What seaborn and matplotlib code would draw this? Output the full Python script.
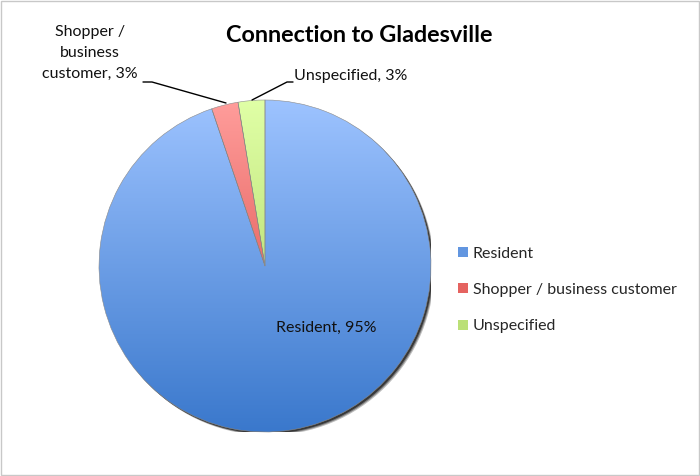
import numpy as np
import matplotlib
matplotlib.use("Agg")
import matplotlib.pyplot as plt
import seaborn as sns
from matplotlib.colors import LinearSegmentedColormap
from matplotlib.patches import Rectangle, Circle, Patch

# data
categories = ["Resident", "Shopper / business customer", "Unspecified"]
shares = [94.8, 2.6, 2.6]
label_text = ["Resident", "Shopper /\nbusiness\ncustomer", "Unspecified"]

# gradient colours (top, bottom) like the Excel fills
grad = [("#9dc3ff", "#3a78cc"), ("#ff9d9b", "#d43c38"), ("#e0ffa6", "#a3cc58")]

sns.set_theme(style="white")
plt.rcParams["font.family"] = ["Lato", "DejaVu Sans"]

fig = plt.figure(figsize=(7, 4.76), dpi=100)
fig.patch.set_facecolor("white")
fig.patches.append(Rectangle((0.002, 0.002), 0.996, 0.996, transform=fig.transFigure,
                             fill=False, edgecolor="#c8c8c8", linewidth=1))

cx, cy, r = 265, 266, 166
ax = fig.add_axes([(cx - r) / 700, (476 - cy - r) / 476, 2 * r / 700, 2 * r / 476])
ax.axis("off")

def px(x, y):
    # pixel position in the picture -> data coords of the pie axes
    return ((x - cx) / r, (cy - y) / r)

# shadow
for i, a in enumerate([0.25, 0.35, 0.55]):
    off = 0.02 - i * 0.005
    ax.add_patch(Circle((off, -off), 1.0, color="black", alpha=a, lw=0, zorder=0))

wedges, _ = ax.pie(shares, startangle=90, counterclock=False, radius=1,
                   wedgeprops=dict(linewidth=0.4, edgecolor="#8a8a8a"))

gy = np.linspace(1, 0, 256).reshape(-1, 1)
cmaps = []
for w, (top, bot) in zip(wedges, grad):
    w.set_facecolor("none")
    cmap = LinearSegmentedColormap.from_list("g", [bot, top])
    cmaps.append(cmap)
    im = ax.imshow(gy, cmap=cmap, extent=[-1, 1, -1, 1], aspect="auto",
                   origin="upper", zorder=1, interpolation="bilinear")
    im.set_clip_path(w)
    w.set_zorder(2)
ax.set_xlim(-1, 1)
ax.set_ylim(-1, 1)
ax.set_aspect("equal")

total = sum(shares)
pct = [f"{lab}, {v / total * 100:.0f}%" for lab, v in zip(label_text, shares)]

fs = 11.5
ax.text(*px(326, 328), pct[0], ha="center", va="center", fontsize=fs, color="#111111")
ax.text(*px(90, 53), pct[1], ha="center", va="center", fontsize=fs, linespacing=1.65,
        color="#111111", clip_on=False)
ax.text(*px(294, 76), pct[2], ha="left", va="center", fontsize=fs, color="#111111",
        clip_on=False)

# leader lines
for pts in ([(143, 82), (152, 82), (226, 103)], [(293, 82), (287, 82), (252, 100)]):
    xs, ys = zip(*[px(x, y) for x, y in pts])
    ax.plot(xs, ys, color="black", lw=1, clip_on=False, zorder=3)

fig.text(359 / 700, 1 - 36 / 476, "Connection to Gladesville", ha="center", va="center",
         fontsize=16.8, fontweight="bold", color="black")

handles = [Patch(facecolor=c(0.4), edgecolor="none") for c in cmaps]
leg = fig.legend(handles, categories, loc="center left", bbox_to_anchor=(444 / 700, 1 - 290 / 476),
                 frameon=False, fontsize=fs, handlelength=0.6, handleheight=0.6,
                 handletextpad=0.3, labelspacing=1.4)

fig.savefig("out.png", dpi=100)
